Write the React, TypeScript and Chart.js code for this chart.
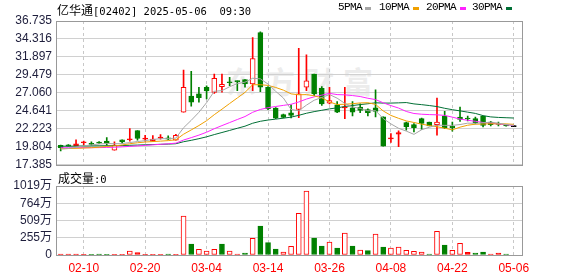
import React, { useEffect, useRef } from 'react';
import { Chart, registerables } from 'chart.js';

Chart.register(...registerables);

// ---------- data ----------
const dates = ['02-05','02-06','02-07','02-10','02-11','02-12','02-13','02-14','02-17','02-18','02-19','02-20','02-21','02-24','02-25','02-26','02-27','02-28','03-03','03-04','03-05','03-06','03-07','03-10','03-11','03-12','03-13','03-14','03-17','03-18','03-19','03-20','03-21','03-24','03-25','03-26','03-27','03-28','03-31','04-01','04-02','04-03','04-07','04-08','04-09','04-10','04-11','04-14','04-15','04-16','04-17','04-22','04-23','04-24','04-25','04-28','04-29','04-30','05-02','05-06'];
const axisDates = ['02-10','02-20','03-04','03-14','03-26','04-08','04-22','05-06'];

const opens = [20.0,20.08,19.95,20.35,20.28,20.43,20.56,19.36,20.75,20.75,21.99,20.85,20.56,20.97,21.01,20.7,24.48,26.62,26.93,27.82,27.14,27.9,28.5,28.62,28.84,28.26,35.16,27.82,25.02,24.14,24.39,24.83,27.82,29.6,27.69,25.68,25.46,25.05,25.06,25.15,24.83,25.06,23.85,20.88,21.5,23.06,22.79,23.59,23.15,22.79,23.95,22.57,23.82,23.68,23.59,23.95,23.15,22.92,22.7,22.52];
const highs = [20.03,20.1,20.75,20.56,20.48,20.5,21.05,20.48,20.75,22.26,21.99,21.36,21.32,21.45,21.28,21.5,30.13,29.95,27.82,28.0,29.6,29.6,29.15,28.7,28.84,34.5,35.29,27.9,25.1,24.2,25.46,33.06,32.17,29.6,27.9,27.82,25.9,27.82,25.9,25.59,24.92,27.46,23.85,21.59,21.95,23.15,22.92,23.68,23.15,26.35,24.57,23.15,25.15,23.95,23.82,23.95,23.23,23.15,22.79,22.52];
const lows = [19.25,19.88,19.95,20.03,20.03,20.25,20.03,19.36,20.25,20.56,20.7,20.56,20.56,20.83,20.75,20.7,24.48,25.28,25.82,26.26,27.0,27.15,28.03,27.37,27.82,27.37,27.23,24.8,23.6,23.7,23.69,23.72,27.37,26.7,25.36,25.59,24.39,23.59,23.95,24.39,23.95,23.82,19.89,20.39,19.81,22.03,21.81,22.16,22.62,21.36,22.26,21.9,23.23,23.28,22.88,22.48,22.62,22.62,22.57,22.52];
const closes = [19.7,19.9,20.21,20.4,20.12,20.3,20.25,20.03,20.48,20.83,20.92,20.9,20.83,21.01,20.83,21.35,27.82,25.82,26.43,27.33,29.02,28.22,28.43,28.57,28.26,31.69,27.82,24.92,23.65,23.75,24.03,26.93,28.7,26.93,25.59,26.03,24.48,25.2,24.48,24.7,24.39,24.57,19.89,20.95,21.72,22.5,22.39,22.96,22.62,23.15,22.35,22.39,23.5,23.55,23.06,22.7,22.79,22.83,22.62,22.52];

const ma5 = [19.5,19.58,19.74,19.93,20.06,20.18,20.25,20.22,20.24,20.38,20.51,20.64,20.79,20.9,20.9,20.98,22.37,23.37,24.45,25.75,27.28,27.36,27.89,28.31,28.5,29.03,28.95,28.25,27.27,26.37,24.83,24.66,25.41,26.07,26.44,26.84,26.35,25.65,25.16,24.98,24.65,24.67,23.61,22.89,22.3,21.92,21.48,22.1,22.44,22.72,22.69,22.69,22.8,22.99,22.97,23.04,23.12,22.99,22.8,22.69];
const ma10 = [19.55,19.57,19.6,19.64,19.68,19.75,19.85,19.93,20.05,20.22,20.35,20.45,20.51,20.57,20.64,20.75,21.5,22.08,22.67,23.32,24.13,24.87,25.63,26.38,27.13,28.16,28.16,28.07,27.79,27.43,26.93,26.81,26.83,26.67,26.4,25.84,25.5,25.53,25.61,25.71,25.74,25.51,24.63,24.03,23.64,23.29,23.08,22.85,22.67,22.51,22.31,22.09,22.45,22.71,22.85,22.87,22.91,22.89,22.89,22.83];
const ma20 = [19.68,19.68,19.68,19.69,19.69,19.7,19.72,19.75,19.8,19.86,19.93,20.0,20.07,20.14,20.21,20.3,20.72,21.04,21.38,21.77,22.24,22.66,23.07,23.48,23.88,24.45,24.83,25.07,25.23,25.38,25.53,25.84,26.23,26.53,26.76,27.0,26.83,26.8,26.7,26.57,26.34,26.16,25.73,25.35,25.02,24.56,24.29,24.19,24.14,24.11,24.03,23.8,23.54,23.37,23.24,23.08,22.99,22.87,22.78,22.67];
const ma30 = [19.89,19.89,19.9,19.92,19.93,19.94,19.95,19.96,19.98,20.01,20.04,20.08,20.11,20.14,20.17,20.22,20.49,20.68,20.9,21.15,21.45,21.73,22.01,22.3,22.58,22.98,23.24,23.41,23.53,23.66,23.8,24.04,24.32,24.54,24.72,24.91,25.05,25.23,25.36,25.49,25.6,25.73,25.69,25.69,25.72,25.76,25.58,25.48,25.36,25.22,24.99,24.8,24.64,24.47,24.3,24.0,23.83,23.76,23.72,23.68];

// volume in 万
const volumes = [12,12,12,10,10,12,10,10,10,59,34,10,10,10,12,10,576,162,84,59,84,162,59,15,30,246,428,182,89,44,128,615,945,251,133,192,103,325,133,74,64,310,118,103,118,69,54,44,15,349,148,69,172,39,30,44,15,30,15,0];
const volumeUp = [1,1,1,1,0,0,0,1,1,1,1,1,1,1,0,1,1,0,1,1,1,0,1,1,0,1,0,0,0,1,1,1,1,0,0,1,0,1,0,1,0,1,0,1,1,1,1,1,0,1,0,1,1,1,0,0,1,1,0,1];

const priceTicks = [17.385, 19.804, 22.223, 24.641, 27.060, 29.479, 31.897, 34.316, 36.735];
const volTicks = [0, 255, 509, 764, 1019];

const maSeries = [
  { label: '5PMA', data: ma5, color: '#a6a6a6' },
  { label: '10PMA', data: ma10, color: '#f0a000' },
  { label: '20PMA', data: ma20, color: '#ff22ff' },
  { label: '30PMA', data: ma30, color: '#006f35' },
];

// ---------- styles ----------
const RED = '#ff0000';
const GREEN = '#008000';
const BLACK = '#000000';
const GRID = '#d0d0d0';
const FRAME = '#999999';
const AXIS_TXT = '#1e1e3c';
const X_MIN = -0.61;
const X_MAX = 60.07;

const candleStroke = opens.map((o, i) => (closes[i] > o ? RED : closes[i] < o ? GREEN : BLACK));
const candleFill = opens.map((o, i) => {
  if (closes[i] > o) return Math.abs(closes[i] - o) > 0.3 ? '#ffffff' : RED;
  return candleStroke[i];
});
const volStroke = volumeUp.map((u) => (u ? RED : GREEN));
const volFill = volumes.map((v, i) => (volumeUp[i] ? (v > 40 ? '#ffffff' : RED) : GREEN));

const framePlugin = {
  id: 'frame',
  afterDraw(chart: any) {
    const { ctx, chartArea } = chart;
    const l = Math.round(chartArea.left);
    const t = Math.round(chartArea.top);
    const r = Math.round(chartArea.right);
    const b = Math.round(chartArea.bottom);
    ctx.save();
    ctx.strokeStyle = FRAME;
    ctx.lineWidth = 1;
    ctx.strokeRect(l + 0.5, t + 0.5, r - l, b - t);
    ctx.restore();
  },
};

const xTickValues = axisDates.map((d) => dates.indexOf(d));

function xScale(showLabels: boolean, height: number) {
  return {
    type: 'linear',
    min: X_MIN,
    max: X_MAX,
    offset: false,
    afterBuildTicks: (s: any) => {
      s.ticks = xTickValues.map((v) => ({ value: v }));
    },
    afterFit: (s: any) => {
      s.height = height;
    },
    ticks: {
      display: showLabels,
      autoSkip: false,
      maxRotation: 0,
      padding: 6,
      color: RED,
      font: { family: '"Liberation Sans", Arial, sans-serif', size: 12 },
      callback: (v: any) => dates[v] ?? '',
    },
    grid: { color: '#c8c8c8', drawTicks: false, offset: false },
    border: { display: false, dash: [3, 3] },
  };
}

export default function App() {
  const priceRef = useRef<HTMLCanvasElement>(null);
  const volRef = useRef<HTMLCanvasElement>(null);

  useEffect(() => {
    const priceChart = new Chart(priceRef.current as HTMLCanvasElement, {
      type: 'bar',
      data: {
        datasets: [
          ...maSeries.map((m) => ({
            type: 'line' as const,
            label: m.label,
            data: m.data.map((y, i) => ({ x: i, y })),
            borderColor: m.color,
            borderWidth: 1,
            pointRadius: 0,
            tension: 0,
            fill: false,
            order: 0,
          })),
          {
            type: 'bar' as const,
            label: 'body',
            data: opens.map((o, i) => ({ x: i, y: [o, closes[i]] })),
            backgroundColor: candleFill,
            borderColor: candleStroke,
            borderWidth: 1,
            borderSkipped: false,
            barThickness: 5,
            minBarLength: 1,
            grouped: false,
            order: 1,
          },
          {
            type: 'bar' as const,
            label: 'wick',
            data: lows.map((l, i) => ({ x: i, y: [l, highs[i]] })),
            backgroundColor: candleStroke,
            borderWidth: 0,
            barThickness: 1,
            minBarLength: 1,
            grouped: false,
            order: 2,
          },
        ] as any,
      },
      options: {
        animation: false,
        responsive: false,
        events: [],
        layout: { padding: { left: 0, right: 56, top: 21, bottom: 10 } },
        plugins: { legend: { display: false }, tooltip: { enabled: false } },
        scales: {
          x: xScale(false, 0) as any,
          y: {
            type: 'linear',
            min: priceTicks[0],
            max: priceTicks[priceTicks.length - 1],
            afterBuildTicks: (s: any) => {
              s.ticks = priceTicks.map((v) => ({ value: v }));
            },
            afterFit: (s: any) => {
              s.width = 56;
            },
            ticks: {
              autoSkip: false,
              padding: 4,
              color: AXIS_TXT,
              font: { family: '"Liberation Sans", Arial, sans-serif', size: 12 },
              callback: (v: any) => Number(v).toFixed(3),
            },
            grid: { color: GRID, drawTicks: false },
            border: { display: false },
          } as any,
        },
      },
      plugins: [framePlugin],
    });

    const volChart = new Chart(volRef.current as HTMLCanvasElement, {
      type: 'bar',
      data: {
        datasets: [
          {
            label: '成交量',
            data: volumes.map((v, i) => ({ x: i, y: v })),
            backgroundColor: volFill,
            borderColor: volStroke,
            borderWidth: 1,
            borderSkipped: false,
            barThickness: 5,
            grouped: false,
          },
        ] as any,
      },
      options: {
        animation: false,
        responsive: false,
        events: [],
        layout: { padding: { left: 0, right: 56, top: 14, bottom: 0 } },
        plugins: { legend: { display: false }, tooltip: { enabled: false } },
        scales: {
          x: xScale(true, 21) as any,
          y: {
            type: 'linear',
            min: 0,
            max: volTicks[volTicks.length - 1],
            afterBuildTicks: (s: any) => {
              s.ticks = volTicks.map((v) => ({ value: v }));
            },
            afterFit: (s: any) => {
              s.width = 56;
            },
            ticks: {
              autoSkip: false,
              padding: 4,
              color: AXIS_TXT,
              font: { family: '"Liberation Sans", "Noto Sans CJK SC", sans-serif', size: 12 },
              callback: (v: any) => (Number(v) === 0 ? '0' : `${v}万`),
            },
            grid: { color: GRID, drawTicks: false },
            border: { display: false },
          } as any,
        },
      },
      plugins: [framePlugin],
    });

    return () => {
      priceChart.destroy();
      volChart.destroy();
    };
  }, []);

  const cjk = '"Noto Sans CJK SC", sans-serif';
  const mono = '"DejaVu Sans Mono", monospace';
  const legendX = [338, 379, 426, 472];
  const squareX = [365, 413, 460, 506];

  return (
    <div style={{ position: 'fixed', left: 0, top: 0, width: 578, height: 276, background: '#ffffff', overflow: 'hidden' }}>
      <div
        style={{
          position: 'absolute',
          left: 226,
          top: 60,
          font: `bold 30px ${cjk}`,
          letterSpacing: '9px',
          color: '#ececec',
          whiteSpace: 'pre',
          lineHeight: '40px',
        }}
      >
        东方财富
      </div>
      <canvas ref={priceRef} width={578} height={176} style={{ position: 'absolute', left: 0, top: 0, display: 'block' }} />
      <canvas ref={volRef} width={578} height={104} style={{ position: 'absolute', left: 0, top: 172, display: 'block' }} />
      <div style={{ position: 'absolute', left: 57, top: 1, height: 16, lineHeight: '16px', whiteSpace: 'pre', color: '#000' }}>
        <span style={{ font: `12px ${cjk}` }}>亿华通</span>
        <span style={{ font: `10.5px ${mono}` }}>[02402] 2025-05-06  09:30</span>
      </div>
      {maSeries.map((m, i) => (
        <React.Fragment key={m.label}>
          <div
            style={{
              position: 'absolute',
              left: legendX[i],
              top: 1,
              lineHeight: '16px',
              font: `11px "Liberation Mono", monospace`,
              letterSpacing: '-0.6px',
              color: '#000',
              whiteSpace: 'pre',
            }}
          >
            {m.label}
          </div>
          <div style={{ position: 'absolute', left: squareX[i], top: 7, width: 6, height: 3, background: m.color }} />
        </React.Fragment>
      ))}
      <div style={{ position: 'absolute', left: 58, top: 169, lineHeight: '16px', whiteSpace: 'pre', color: '#000' }}>
        <span style={{ font: `12px ${cjk}` }}>成交量</span>
        <span style={{ font: `10.5px ${mono}` }}>:0</span>
      </div>
    </div>
  );
}
